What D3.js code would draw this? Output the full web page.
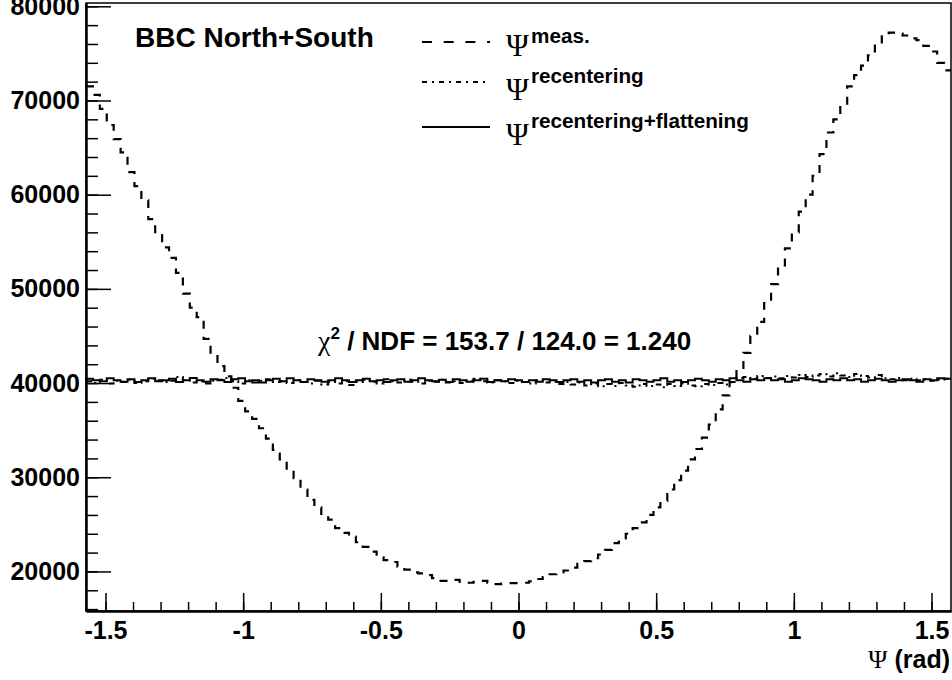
<!DOCTYPE html>
<html><head><meta charset="utf-8">
<script src="https://cdn.jsdelivr.net/npm/d3@7"></script>
<style>body{margin:0;background:#fff}svg{display:block}</style>
</head><body><svg id="c" width="952" height="680"></svg>
<script>
// ---------------- data ----------------
const nBins = 125;
const xMin = -Math.PI / 2, xMax = Math.PI / 2;

const measValues = [
 71500,70600,69100,67400,65900,64500,62400,60900,59400,57400,
 55700,54400,53300,51700,49500,48000,47000,44700,43000,41800,
 40700,39500,38100,37000,36200,35200,34100,32900,31900,30800,
 29900,28700,27600,26800,25900,25500,24600,24100,23700,23100,
 22600,22100,21500,21200,21000,20500,20200,19900,19800,19600,
 19300,19000,19000,19100,18900,18800,18900,19000,18800,18650,
 18700,18750,18750,18800,18950,19200,19400,19700,19900,20100,
 20400,20800,21100,21400,21800,22300,23000,23500,24000,24600,
 25200,26000,26800,27500,28700,29700,30700,31900,33000,34200,
 35600,37200,38700,40100,41600,43200,45000,46500,48500,50500,
 52500,54300,56000,58200,60000,62000,64300,66600,68000,69500,
 71500,72700,73700,74800,76000,76800,77200,77100,76900,76600,
 76400,75800,75200,74000,73200
];

const recenterValues = [
 40200,40000,40350,39950,40250,40100,40350,40000,40200,40450,
 40300,40100,40250,40650,40300,40050,40200,39950,40250,40350,
 40550,40200,39950,40300,40050,40250,40400,40100,40200,40000,
 40300,40100,39950,40250,39850,40100,39950,40200,39800,40100,
 40350,40150,39950,40400,40200,40050,40350,40150,39950,40250,
 40150,40350,40050,40200,40000,40250,40450,40200,40050,40300,
 40200,40000,40250,40100,39950,40300,40050,40150,39900,40100,
 39850,40050,39750,39950,39650,39900,39700,40000,39750,39600,
 39900,39700,39850,39550,39900,39700,39950,39750,39650,39900,
 39800,40000,39850,40100,40550,40650,40450,40750,40550,40700,
 40500,40750,40600,40850,40650,40800,40950,40700,41050,40800,
 40650,40950,40750,40600,40850,40500,40400,40550,40300,40450,
 40300,40400,40250,40350,40450
];

const flatValues = [
 40450,40300,40200,40500,40300,40150,40400,40100,40300,40500,
 40200,40300,40450,40100,40300,40550,40300,40150,40400,40300,
 40100,40400,40500,40200,40300,40050,40300,40450,40200,40500,
 40300,40100,40400,40300,40150,40300,40500,40300,40100,40300,
 40450,40200,40300,40100,40300,40400,40150,40300,40500,40300,
 40200,40350,40100,40400,40300,40150,40300,40450,40100,40300,
 40200,40400,40300,40100,40300,40150,40400,40300,40100,40300,
 40400,40150,40300,40050,40300,40400,40150,40300,40050,40400,
 40300,40150,40300,40500,40150,40300,40100,40300,40450,40300,
 40150,40400,40300,40500,40300,40150,40400,40300,40500,40300,
 40400,40150,40300,40500,40400,40300,40150,40400,40300,40500,
 40300,40400,40150,40300,40450,40300,40150,40300,40400,40300,
 40150,40400,40300,40500,40450
];

const xMajorTicks = [-1.5, -1, -0.5, 0, 0.5, 1, 1.5];
const xTickLabels = ["-1.5", "-1", "-0.5", "0", "0.5", "1", "1.5"];
const xMinorTicks = [-1.5,-1.4,-1.3,-1.2,-1.1,-1,-0.9,-0.8,-0.7,-0.6,-0.5,-0.4,-0.3,-0.2,-0.1,0,0.1,0.2,0.3,0.4,0.5,0.6,0.7,0.8,0.9,1,1.1,1.2,1.3,1.4,1.5];
const yMajorTicks = [20000, 30000, 40000, 50000, 60000, 70000, 80000];
const yMinorTicks = [16000,18000,20000,22000,24000,26000,28000,30000,32000,34000,36000,38000,40000,42000,44000,46000,48000,50000,52000,54000,56000,58000,60000,62000,64000,66000,68000,70000,72000,74000,76000,78000,80000];
const yDomain = [15800, 80350];

const legendSup = ["meas.", "recentering", "recentering+flattening"];
const titleText = "BBC North+South";
const fitText = " / NDF = 153.7 / 124.0 = 1.240";

// ---------------- layout ----------------
const L = 86, R = 951, T = 3, B = 611;
const svg = d3.select("#c");
const x = d3.scaleLinear().domain([xMin, xMax]).range([L, R]);
const y = d3.scaleLinear().domain(yDomain).range([B, T]);
const SANS = "'Liberation Sans', Arial, Helvetica, sans-serif";
const SERIF = "'Liberation Serif', 'Times New Roman', serif";

svg.append("rect").attr("width", 952).attr("height", 680).attr("fill", "#fff");

svg.append("defs").append("clipPath").attr("id", "clip")
  .append("rect").attr("x", L).attr("y", T).attr("width", R - L).attr("height", B - T);

// histogram outline points
const binW = (xMax - xMin) / nBins;
function histPoints(vals) {
  const pts = vals.map((v, i) => [xMin + i * binW, v]);
  pts.push([xMax, vals[vals.length - 1]]);
  return pts;
}
const line = d3.line().x(d => x(d[0])).y(d => y(d[1])).curve(d3.curveStepAfter);

const g = svg.append("g").attr("clip-path", "url(#clip)");
g.append("path").attr("d", line(histPoints(recenterValues)))
  .attr("fill", "none").attr("stroke", "#000").attr("stroke-width", 2)
  .attr("stroke-dasharray", "6 4 2 4");
g.append("path").attr("d", line(histPoints(flatValues)))
  .attr("fill", "none").attr("stroke", "#000").attr("stroke-width", 2);
g.append("path").attr("d", line(histPoints(measValues)))
  .attr("fill", "none").attr("stroke", "#000").attr("stroke-width", 2.2)
  .attr("stroke-dasharray", "8 8");

// frame
svg.append("rect").attr("x", L).attr("y", T).attr("width", R - L).attr("height", B - T)
  .attr("fill", "none").attr("stroke", "#000").attr("stroke-width", 1.5);

// axes
const yMinor = svg.append("g").attr("transform", `translate(${L},0)`)
  .call(d3.axisLeft(y).tickValues(yMinorTicks).tickSize(-12).tickSizeOuter(0).tickFormat(""));
const yMajor = svg.append("g").attr("transform", `translate(${L},0)`)
  .call(d3.axisLeft(y).tickValues(yMajorTicks).tickSize(-25).tickSizeOuter(0).tickPadding(6)
        .tickFormat(d3.format("d")));
const xMinor = svg.append("g").attr("transform", `translate(0,${B})`)
  .call(d3.axisBottom(x).tickValues(xMinorTicks).tickSize(-9).tickSizeOuter(0).tickFormat(""));
const xMajor = svg.append("g").attr("transform", `translate(0,${B})`)
  .call(d3.axisBottom(x).tickValues(xMajorTicks).tickSize(-18).tickSizeOuter(0).tickPadding(10)
        .tickFormat((d, i) => xTickLabels[i]));
[yMinor, yMajor, xMinor, xMajor].forEach(a => {
  a.selectAll("path.domain").attr("stroke", "#000").attr("stroke-width", 2);
  a.selectAll(".tick line").attr("stroke", "#000").attr("stroke-width", 1.5);
  a.selectAll("text").attr("fill", "#000").attr("font-family", SANS)
    .attr("font-weight", "bold").attr("font-size", 25);
});

// x axis title
const xt = svg.append("text").attr("x", 950).attr("y", 668).attr("text-anchor", "end")
  .attr("font-size", 25).attr("font-family", SANS).attr("font-weight", "bold");
xt.append("tspan").attr("font-family", SERIF).attr("font-weight", "normal").attr("font-size", 26).text("Ψ");
xt.append("tspan").text(" (rad)");

// title label
svg.append("text").attr("x", 135).attr("y", 47).attr("font-family", SANS)
  .attr("font-weight", "bold").attr("font-size", 28).text(titleText);

// fit text
const ft = svg.append("text").attr("x", 318).attr("y", 350).attr("font-family", SANS)
  .attr("font-weight", "bold").attr("font-size", 26);
ft.append("tspan").attr("font-family", SERIF).attr("font-weight", "normal").attr("font-size", 28).text("χ");
ft.append("tspan").attr("font-size", 17).attr("dy", -11).text("2");
ft.append("tspan").attr("dy", 11).text(fitText);

// legend
const legRows = [42, 82, 127];
const legDash = ["10 11.7", "5 5 2 5", null];
const psiBase = [56, 100, 145];
legRows.forEach((ly, i) => {
  const ln = svg.append("line").attr("x1", 422).attr("x2", 490).attr("y1", ly).attr("y2", ly)
    .attr("stroke", "#000").attr("stroke-width", 2);
  if (legDash[i]) ln.attr("stroke-dasharray", legDash[i]);
  svg.append("text").attr("x", 506).attr("y", psiBase[i]).attr("font-family", SERIF)
    .attr("font-size", 31).text("Ψ");
  svg.append("text").attr("x", 531).attr("y", ly + 1).attr("font-family", SANS)
    .attr("font-weight", "bold").attr("font-size", 20.7).text(legendSup[i]);
});
</script></body></html>
